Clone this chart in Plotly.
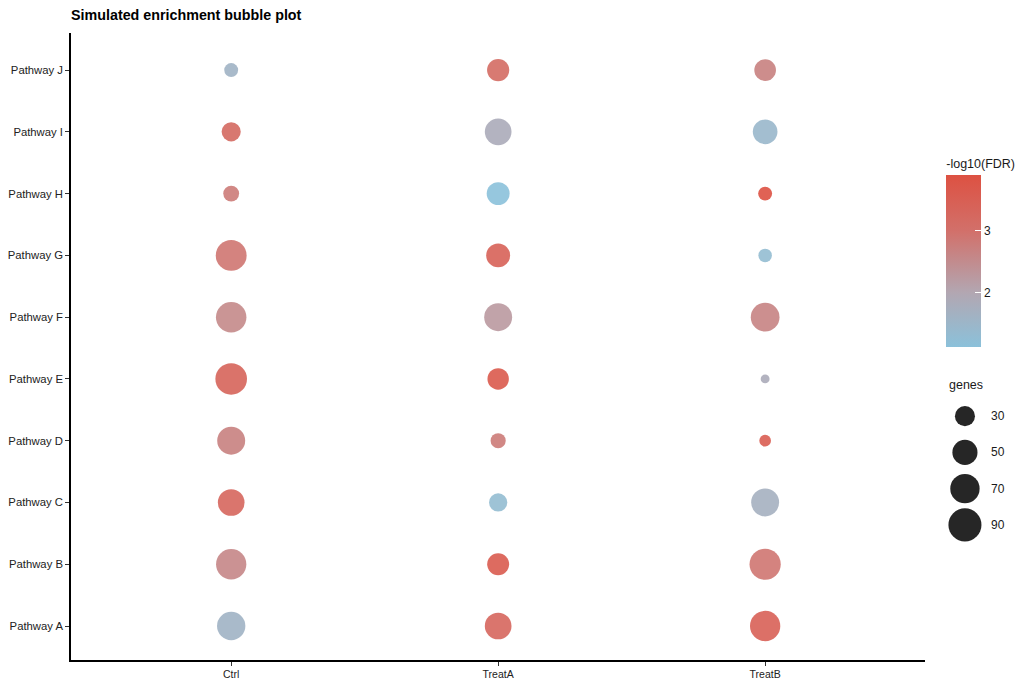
import numpy as np
import plotly.graph_objects as go

# dados
pathways = ["Pathway A", "Pathway B", "Pathway C", "Pathway D", "Pathway E",
            "Pathway F", "Pathway G", "Pathway H", "Pathway I", "Pathway J"]
groups = ["Ctrl", "TreatA", "TreatB"]

genes_ctrl = [65, 75, 57, 63, 82, 76, 78, 17, 27, 12]
genes_treata = [57, 37, 24, 15, 35, 63, 45, 41, 57, 38]
genes_treatb = [75, 80, 63, 7, 2, 67, 11, 12, 48, 36]

fdr_ctrl = [1.6, 2.6, 3.3, 2.7, 3.35, 2.55, 2.9, 2.8, 3.2, 1.6]
fdr_treata = [3.3, 3.6, 1.3, 2.8, 3.65, 2.25, 3.4, 1.13, 1.85, 3.15]
fdr_treatb = [3.45, 2.9, 1.7, 3.55, 1.85, 2.65, 1.3, 3.9, 1.45, 2.7]

legend_genes = [30, 50, 70, 90]
cbar_ticks = [2, 3]

fdr_min, fdr_max = 1.13, 3.9


def bubble_px(g):
    # escala de tamanho (área ~ genes)
    return np.sqrt(56 + 11.5 * np.asarray(g, dtype=float))


def pos(v):
    return (v - fdr_min) / (fdr_max - fdr_min)


colorscale = [[0.0, "#8BC1DA"], [pos(2), "#B2A7B2"], [pos(3), "#D2706A"], [1.0, "#DD5142"]]

font = "Liberation Sans, Arial, sans-serif"

fig = go.Figure()

genes_all = [genes_ctrl, genes_treata, genes_treatb]
fdr_all = [fdr_ctrl, fdr_treata, fdr_treatb]
xs, ys, ss, cs = [], [], [], []
for grp, g, f in zip(groups, genes_all, fdr_all):
    xs += [grp] * len(pathways)
    ys += pathways
    ss += list(g)
    cs += list(f)

fig.add_trace(go.Scatter(
    x=xs, y=ys, mode="markers",
    marker=dict(size=bubble_px(ss), color=cs, colorscale=colorscale, opacity=0.9,
                cmin=fdr_min, cmax=fdr_max, line=dict(width=0),
                colorbar=dict(title=dict(text="-log10(FDR)", side="top",
                                         font=dict(size=12.5, color="#1a1a1a")),
                              tickvals=cbar_ticks, ticks="inside", tickcolor="white",
                              ticklen=6, tickwidth=1.2, outlinewidth=0,
                              thickness=35, len=191, lenmode="pixels",
                              x=0.9146, xanchor="left", xpad=0,
                              y=0.6515, yanchor="middle", ypad=0,
                              tickfont=dict(size=12, color="#1a1a1a"))),
    showlegend=False, hoverinfo="skip"))

# legenda de tamanho (genes) num eixo auxiliar
fig.add_trace(go.Scatter(
    x=[1.125] * len(legend_genes), y=list(range(len(legend_genes))), mode="markers",
    marker=dict(size=bubble_px(legend_genes), color="#262626", opacity=1,
                line=dict(width=0)),
    xaxis="x2", yaxis="y2", showlegend=False, hoverinfo="skip"))

for i, g in enumerate(legend_genes):
    fig.add_annotation(x=2.2, y=i, xref="x2", yref="y2", text=str(g), showarrow=False,
                       xanchor="left", yanchor="middle",
                       font=dict(size=12, color="#1a1a1a"))

fig.add_annotation(x=0.9156, y=0.4386, xref="paper", yref="paper", text="genes",
                   showarrow=False, xanchor="left", yanchor="middle",
                   font=dict(size=12.5, color="#1a1a1a"))

# a página tem 8px de margem no body, por isso tudo vai deslocado 8px
fig.update_layout(
    width=1020, height=674,
    margin=dict(l=60, r=0, t=25, b=22),
    paper_bgcolor="white", plot_bgcolor="white",
    font=dict(family=font),
    title=dict(text="<b>Simulated enrichment bubble plot</b>", x=0, xref="paper",
               xanchor="left", y=1 - 7 / 674, yref="container", yanchor="middle",
               font=dict(size=14.3, color="#000")),
    xaxis=dict(domain=[0, 857 / 960], categoryorder="array", categoryarray=groups,
               range=[-0.6, 2.6], showgrid=False, zeroline=False,
               showline=True, linecolor="black", linewidth=1.5,
               ticks="outside", ticklen=4, tickcolor="#333",
               tickfont=dict(size=10.5, color="#222")),
    yaxis=dict(categoryorder="array", categoryarray=pathways,
               range=[-0.55, 9.6], showgrid=False, zeroline=False,
               showline=True, linecolor="black", linewidth=1.5,
               ticks="outside", ticklen=4, tickcolor="#333",
               tickfont=dict(size=11.3, color="#222")),
    xaxis2=dict(domain=[872 / 960, 1], range=[0, 4], visible=False, fixedrange=True),
    yaxis2=dict(domain=[(660 - 543) / 627, (660 - 398) / 627], range=[3.5, -0.5],
                anchor="x2", visible=False, fixedrange=True),
)

fig.write_html("out.html")
